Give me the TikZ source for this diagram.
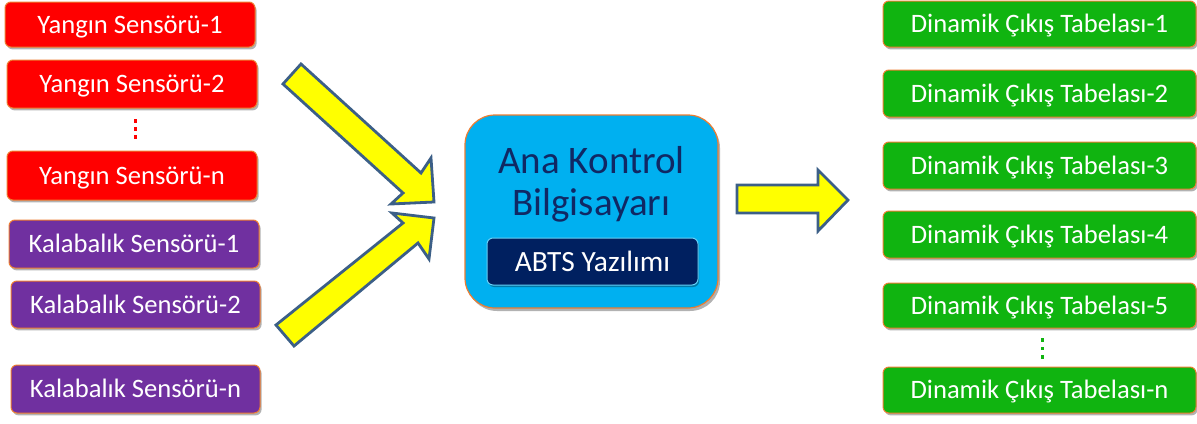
\documentclass[tikz,border=0pt]{standalone}
\usepackage{fontspec}
\setmainfont{Carlito}
\usetikzlibrary{shadows}
\definecolor{redbox}{RGB}{255,0,0}
\definecolor{purplebox}{RGB}{112,48,160}
\definecolor{greenbox}{RGB}{16,180,16}
\definecolor{orangeline}{RGB}{237,125,49}
\definecolor{centerfill}{RGB}{0,176,240}
\definecolor{navyfill}{RGB}{0,32,96}
\definecolor{navytext}{RGB}{16,40,100}
\definecolor{arrowline}{RGB}{60,95,135}
\definecolor{arrowfill}{RGB}{255,255,0}
\tikzset{
  sensorbox/.style={draw=orangeline, line width=0.5pt, rounded corners=3pt, text=white,
    font=\fontsize{13.3}{15}\selectfont, inner sep=0pt, text height=8.6pt, text depth=0pt,
    drop shadow={shadow xshift=0.8pt, shadow yshift=-1.2pt, opacity=0.3, fill=black}},
  firebox/.style={sensorbox, fill=redbox},
  crowdbox/.style={sensorbox, fill=purplebox},
  signbox/.style={sensorbox, fill=greenbox},
  mainbox/.style={draw=orangeline, line width=0.6pt, fill=centerfill, rounded corners=15pt,
    drop shadow={shadow xshift=1pt, shadow yshift=-1.5pt, opacity=0.3, fill=black}},
  softbox/.style={draw=centerfill!60!white, line width=0.5pt, fill=navyfill, rounded corners=3pt,
    text=white, font=\fontsize{14.7}{17}\selectfont, inner sep=0pt, text height=9.5pt, text depth=0pt,
    drop shadow={shadow xshift=0.6pt, shadow yshift=-1pt, opacity=0.3, fill=black}},
  maintext/.style={text=navytext, font=\fontsize{19.5}{22}\selectfont, inner sep=0pt,
    text height=12.6pt, text depth=0pt},
  blockarrow/.style={draw=arrowline, line width=1.4pt, fill=arrowfill, line join=miter},
}
\begin{document}
\begin{tikzpicture}[x=0.5pt, y=-0.5pt]
\useasboundingbox (0,0) rectangle (1197,423);
% fire sensors
\node[firebox, minimum width=125pt, minimum height=22.5pt] (r1) at (130,24.5) {Yangın Sensörü-1};
\node[firebox, minimum width=125pt, minimum height=24pt] (r2) at (132,84) {Yangın Sensörü-2};
\node[firebox, minimum width=125pt, minimum height=24.5pt] (rn) at (132,175.5) {Yangın Sensörü-n};
% crowd sensors
\node[crowdbox, minimum width=125pt, minimum height=24pt] (p1) at (134,244) {Kalabalık Sensörü-1};
\node[crowdbox, minimum width=124.5pt, minimum height=23.5pt] (p2) at (135.5,304.5) {Kalabalık Sensörü-2};
\node[crowdbox, minimum width=124.5pt, minimum height=24pt] (pn) at (135.5,389) {Kalabalık Sensörü-n};
% red dots
\foreach \yy in {121,129,137} \fill[redbox] (133.5,\yy-1.8) rectangle (137,\yy+1.8);
% signs
\node[signbox, minimum width=156.5pt, minimum height=23pt] (g1) at (1039.5,24) {Dinamik Çıkış Tabelası-1};
\node[signbox, minimum width=156.5pt, minimum height=23.5pt] (g2) at (1039.5,93.5) {Dinamik Çıkış Tabelası-2};
\node[signbox, minimum width=156.5pt, minimum height=23.5pt] (g3) at (1039.5,165.5) {Dinamik Çıkış Tabelası-3};
\node[signbox, minimum width=156.5pt, minimum height=23.5pt] (g4) at (1039.5,234.5) {Dinamik Çıkış Tabelası-4};
\node[signbox, minimum width=156.5pt, minimum height=22.5pt] (g5) at (1039.5,305.5) {Dinamik Çıkış Tabelası-5};
\node[signbox, minimum width=156.5pt, minimum height=23pt] (gn) at (1039.5,390) {Dinamik Çıkış Tabelası-n};
% green dots
\foreach \yy in {340,348.5,357} \fill[greenbox] (1040.5,\yy-1.8) rectangle (1044,\yy+1.8);
% center
\node[mainbox, minimum width=126.5pt, minimum height=96.5pt] (main) at (591.5,211.5) {};
\node[maintext] (l1) at (591.5,161) {Ana Kontrol};
\node[maintext] (l2) at (591.5,203) {Bilgisayarı};
\node[softbox, minimum width=105.5pt, minimum height=23.5pt] (abts) at (592.5,261.5) {ABTS Yazılımı};
% arrows
\draw[blockarrow] (301,64) -- (421,173) -- (431,158) -- (434,202) -- (391,204) -- (403,193) -- (283,84) -- cycle;
\draw[blockarrow] (276,325) -- (403,223) -- (392,213) -- (434,218) -- (429,259) -- (418,243) -- (294,346) -- cycle;
\draw[blockarrow] (737,185) -- (818,185) -- (818,170) -- (848,200) -- (818,231) -- (818,213) -- (737,213) -- cycle;
\end{tikzpicture}
\end{document}
